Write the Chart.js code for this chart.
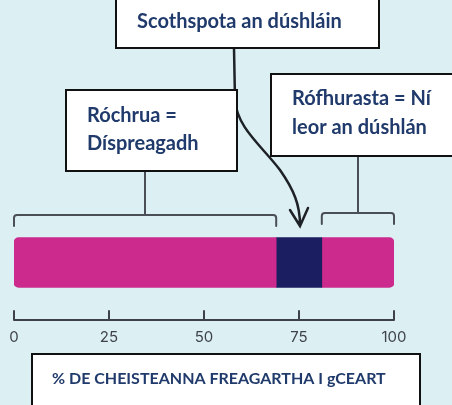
<!DOCTYPE html>
<html>
<head>
<meta charset="utf-8">
<script src="https://cdn.jsdelivr.net/npm/chart.js@4.4.1/dist/chart.umd.min.js"></script>
<style>
  html, body { margin: 0; padding: 0; background: #dcf0f4; }
  #wrap { width: 452px; height: 405px; position: relative; }
</style>
</head>
<body>
<div id="wrap"><canvas id="chart"></canvas></div>
<script>
"use strict";

// data
const categories = ["Ceisteanna"];
const tooHard = [69];
const sweetSpot = [12];
const tooEasy = [19];
const tickValues = [0, 25, 50, 75, 100];

const boxTitle = "Scothspota an dúshláin";
const boxLeft = ["Róchrua =", "Díspreagadh"];
const boxRight = ["Rófhurasta = Ní", "leor an dúshlán"];
const axisTitle = "% DE CHEISTEANNA FREAGARTHA I gCEART";

const MAGENTA = "#cc2b8d";
const NAVY = "#1b1f61";
const TEXT_NAVY = "#1f3a6b";
const LINE = "#4a4f55";
const AXIS_Y = 320;

function drawBox(ctx, x, y, w, h, lines, tx, ty, lh, size) {
  ctx.save();
  ctx.fillStyle = "#ffffff";
  ctx.fillRect(x, y, w, h);
  ctx.strokeStyle = "#111";
  ctx.lineWidth = 2;
  ctx.strokeRect(x, y, w, h);
  ctx.fillStyle = TEXT_NAVY;
  ctx.font = `bold ${size}px Lato, "Open Sans", sans-serif`;
  ctx.textBaseline = "middle";
  lines.forEach((line, i) => {
    ctx.fillText(line, tx, ty + i * lh);
  });
  ctx.restore();
}

function bracket(ctx, x0, x1, y, stemX, stemTop) {
  ctx.beginPath();
  ctx.moveTo(x0, y + 11);
  ctx.lineTo(x0, y + 3);
  ctx.quadraticCurveTo(x0, y, x0 + 3, y);
  ctx.lineTo(x1 - 3, y);
  ctx.quadraticCurveTo(x1, y, x1, y + 3);
  ctx.lineTo(x1, y + 11);
  ctx.moveTo(stemX, y);
  ctx.lineTo(stemX, stemTop);
  ctx.stroke();
}

const annotations = {
  id: "annotations",
  beforeDraw(chart) {
    const ctx = chart.ctx;
    ctx.save();
    ctx.fillStyle = "#dcf0f4";
    ctx.fillRect(0, 0, chart.width, chart.height);
    ctx.restore();
  },
  afterDraw(chart) {
    const ctx = chart.ctx;
    const xs = chart.scales.x;
    const px = (v) => xs.getPixelForValue(v);
    const start = tooHard[0];
    const end = tooHard[0] + sweetSpot[0];

    ctx.save();
    ctx.strokeStyle = LINE;
    ctx.lineWidth = 2;
    ctx.lineCap = "round";

    // brackets above the bar
    bracket(ctx, px(0), px(start), 215, 145, 171);
    bracket(ctx, px(end), px(100), 213, 358, 156);

    // axis line with ticks pointing up
    ctx.strokeStyle = "#3d4248";
    ctx.beginPath();
    ctx.moveTo(px(0), AXIS_Y);
    ctx.lineTo(px(100), AXIS_Y);
    tickValues.forEach((v) => {
      ctx.moveTo(px(v), AXIS_Y);
      ctx.lineTo(px(v), AXIS_Y - 9);
    });
    ctx.stroke();

    // arrow from the top box to the sweet spot
    const tip = px((start + end) / 2) + 1;
    ctx.strokeStyle = "#1e2226";
    ctx.lineWidth = 2.5;
    ctx.beginPath();
    ctx.moveTo(234, 48);
    ctx.lineTo(235, 100);
    ctx.bezierCurveTo(237, 128, 262, 146, 280, 170);
    ctx.bezierCurveTo(294, 190, tip, 205, tip, 225);
    ctx.moveTo(tip - 10, 210);
    ctx.lineTo(tip, 226);
    ctx.lineTo(tip + 8, 208);
    ctx.stroke();
    ctx.restore();

    drawBox(ctx, 116, -4, 263, 52, [boxTitle], 137, 22, 0, 20);
    drawBox(ctx, 66, 90, 171, 81, boxLeft, 87, 116, 28, 20);
    drawBox(ctx, 271, 74, 190, 82, boxRight, 292, 99, 29, 20);
    drawBox(ctx, 32, 354, 388, 60, [axisTitle], 52, 379, 0, 16);
  },
};

new Chart(document.getElementById("chart"), {
  type: "bar",
  data: {
    labels: categories,
    datasets: [
      {
        label: "Róchrua",
        data: tooHard,
        backgroundColor: MAGENTA,
        borderRadius: { topLeft: 5, bottomLeft: 5 },
        borderSkipped: false,
      },
      {
        label: "Scothspota",
        data: sweetSpot,
        backgroundColor: NAVY,
        borderRadius: 0,
        borderSkipped: false,
      },
      {
        label: "Rófhurasta",
        data: tooEasy,
        backgroundColor: MAGENTA,
        borderRadius: { topRight: 5, bottomRight: 5 },
        borderSkipped: false,
      },
    ],
  },
  options: {
    indexAxis: "y",
    responsive: true,
    maintainAspectRatio: false,
    animation: false,
    barThickness: 50,
    layout: { padding: { left: 14, right: 58, top: 210, bottom: 54 } },
    plugins: { legend: { display: false }, tooltip: { enabled: false } },
    scales: {
      x: {
        stacked: true,
        min: 0,
        max: 100,
        afterBuildTicks(scale) {
          scale.ticks = tickValues.map((v) => ({ value: v }));
        },
        grid: { display: false },
        border: { display: false },
        ticks: {
          padding: 5,
          color: "#3f4348",
          font: { family: "Inter, sans-serif", size: 15 },
          maxRotation: 0,
        },
      },
      y: { stacked: true, display: false },
    },
  },
  plugins: [annotations],
});
</script>
</body>
</html>
